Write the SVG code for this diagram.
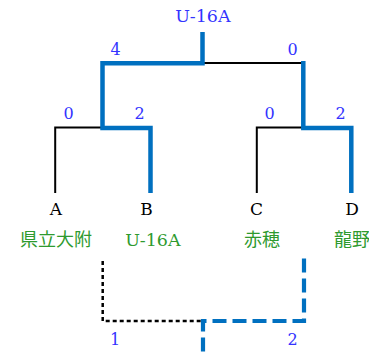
<svg xmlns="http://www.w3.org/2000/svg" width="369" height="355" viewBox="0 0 369 355">
<style>
.blk{fill:none;stroke:#000;stroke-width:2;stroke-linecap:butt}
.win{fill:none;stroke:#0070c0;stroke-width:4.5;stroke-linejoin:miter;stroke-linecap:butt}
.dot{fill:none;stroke:#000;stroke-width:2.5;stroke-dasharray:4 3}
.dash{fill:none;stroke:#0070c0;stroke-width:4.2;stroke-dasharray:14 6}
.sc{font-family:'DejaVu Serif',serif;font-size:16px;fill:#3333ff;text-anchor:middle}
.lt{font-family:'DejaVu Serif',serif;font-size:17px;fill:#000;text-anchor:middle}
.tm{font-family:'DejaVu Serif','Noto Sans CJK JP',serif;font-size:18px;fill:#2e9a2e;text-anchor:middle}
.ua{font-size:17.5px}
</style>
<rect width="369" height="355" fill="#fff"/>
<g id="connectors">
<path class="blk" d="M55.2,193 V127.5 H102.5"/>
<path class="blk" d="M256.8,193 V127.5 H303.3"/>
<path class="blk" d="M202.5,63 H303.3"/>
<path class="win" d="M150.5,193 V128 H102.5 V63.3 H202.5 V32"/>
<path class="win" d="M351.3,193 V128 H303.3 V61"/>
<path class="dot" d="M102.7,261 V321 H203"/>
<path class="dash" d="M304,258.5 V321 H203 V355"/>
</g>
<g id="scores">
<text class="sc ua" x="203" y="21.5">U-16A</text>
<text class="sc" x="115.5" y="55">4</text>
<text class="sc" x="292.5" y="55">0</text>
<text class="sc" x="68.5" y="119">0</text>
<text class="sc" x="139.5" y="119">2</text>
<text class="sc" x="269.5" y="119">0</text>
<text class="sc" x="340.5" y="119">2</text>
<text class="sc" x="115" y="345">1</text>
<text class="sc" x="292.5" y="345">2</text>
</g>
<g id="team-A"><text class="lt" x="56" y="215">A</text><text class="tm" x="56" y="246">県立大附</text></g>
<g id="team-B"><text class="lt" x="146.5" y="215">B</text><text class="tm ua" x="153" y="246">U-16A</text></g>
<g id="team-C"><text class="lt" x="256.5" y="215">C</text><text class="tm" x="262" y="246">赤穂</text></g>
<g id="team-D"><text class="lt" x="352" y="215">D</text><text class="tm" x="352" y="246">龍野</text></g>
</svg>
